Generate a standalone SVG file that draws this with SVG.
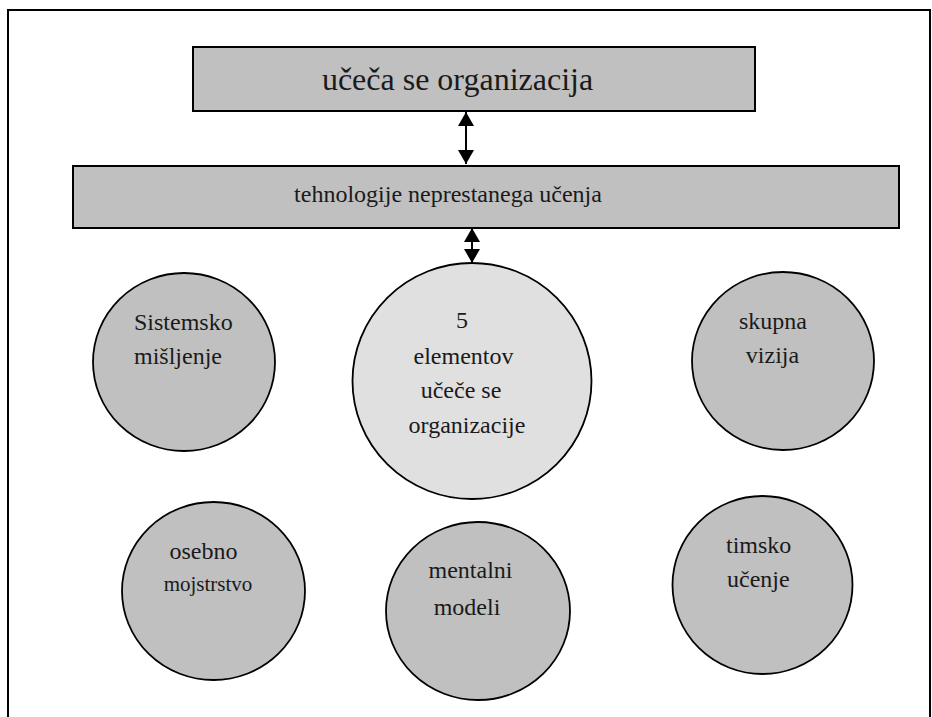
<svg xmlns="http://www.w3.org/2000/svg" width="932" height="717" viewBox="0 0 932 717">
<style>
  .box { fill: #c0c0c0; stroke: #000; stroke-width: 2; }
  .node { fill: #c0c0c0; stroke: #000; stroke-width: 1.8; }
  .center { fill: #e0e0e0; stroke: #000; stroke-width: 1.8; }
  .t { font-family: "Liberation Serif", "Times New Roman", serif; fill: #1a1a1a; font-size: 24px; }
  .m { text-anchor: middle; }
  .conn { stroke: #000; stroke-width: 2; fill: none; }
</style>
<defs>
  <marker id="ah" markerUnits="userSpaceOnUse" markerWidth="14" markerHeight="16" refX="14" refY="8" orient="auto-start-reverse" viewBox="0 0 14 16">
    <path d="M0,0 L14,8 L0,16 z" fill="#000"/>
  </marker>
</defs>
<rect width="932" height="717" fill="#fff"/>
<path d="M8,717 V10 H930 V717" fill="none" stroke="#000" stroke-width="2"/>

<g id="connectors">
  <line class="conn" x1="466" y1="112" x2="466" y2="164" marker-start="url(#ah)" marker-end="url(#ah)"/>
  <line class="conn" x1="472" y1="228" x2="472" y2="263" marker-start="url(#ah)" marker-end="url(#ah)"/>
</g>

<g id="n-ucecaorg">
  <rect class="box" x="193" y="47" width="562" height="64"/>
  <text class="t m" x="457.5" y="90" style="font-size:32px">učeča se organizacija</text>
</g>
<g id="n-tehnologije">
  <rect class="box" x="73" y="166" width="826" height="62"/>
  <text class="t m" x="448" y="202">tehnologije neprestanega učenja</text>
</g>
<g id="n-5elementov">
  <ellipse class="center" cx="472" cy="381" rx="119.5" ry="118"/>
  <text class="t m" x="462" y="328">5</text>
  <text class="t m" x="463.5" y="364">elementov</text>
  <text class="t m" x="461" y="398">učeče se</text>
  <text class="t m" x="467" y="433">organizacije</text>
</g>
<g id="n-sistemsko">
  <ellipse class="node" cx="184" cy="362" rx="91" ry="89"/>
  <text class="t" x="134" y="330">Sistemsko</text>
  <text class="t" x="134" y="364">mišljenje</text>
</g>
<g id="n-skupna">
  <ellipse class="node" cx="783" cy="361" rx="91" ry="89"/>
  <text class="t m" x="773" y="329">skupna</text>
  <text class="t m" x="772.5" y="363">vizija</text>
</g>
<g id="n-osebno">
  <ellipse class="node" cx="213.5" cy="591" rx="91.5" ry="89"/>
  <text class="t m" x="203.5" y="559">osebno</text>
  <text class="t m" x="208" y="591" style="font-size:21px">mojstrstvo</text>
</g>
<g id="n-mentalni">
  <ellipse class="node" cx="478" cy="611" rx="92" ry="89"/>
  <text class="t m" x="470.5" y="578">mentalni</text>
  <text class="t m" x="467" y="615">modeli</text>
</g>
<g id="n-timsko">
  <ellipse class="node" cx="762.5" cy="585" rx="90" ry="89"/>
  <text class="t" x="726" y="553">timsko</text>
  <text class="t" x="727" y="587">učenje</text>
</g>
</svg>
